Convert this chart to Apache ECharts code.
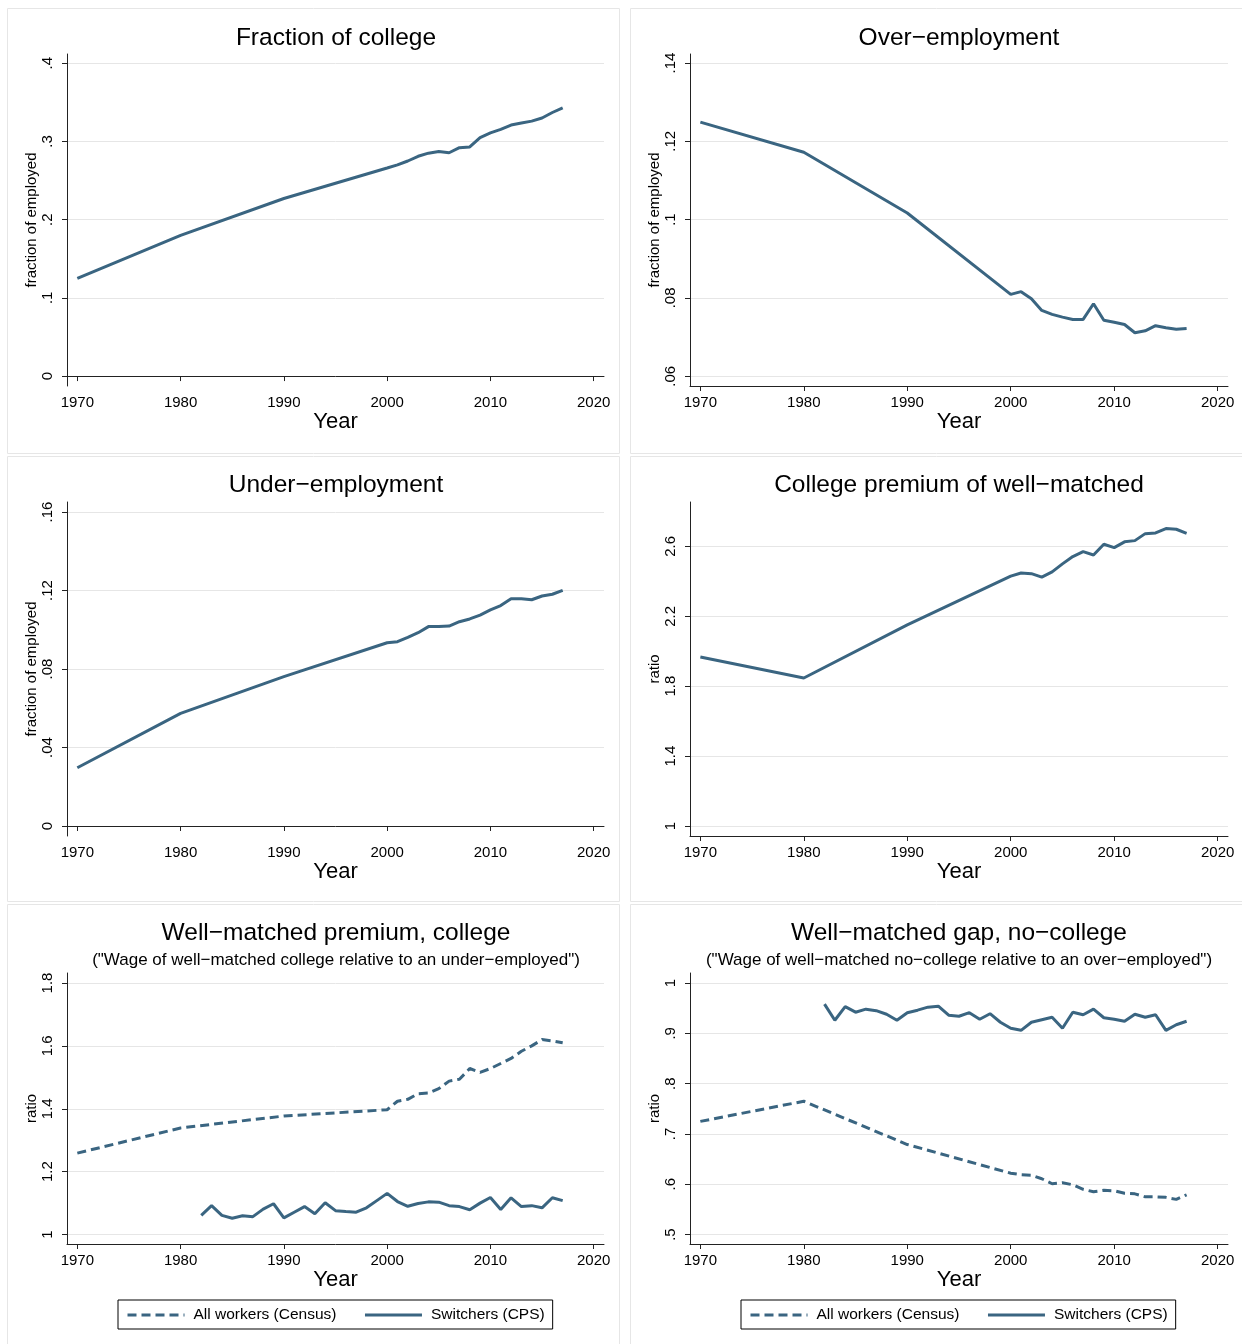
<!DOCTYPE html>
<html>
<head>
<meta charset="utf-8">
<script src="https://cdn.jsdelivr.net/npm/echarts@6/dist/echarts.min.js"></script>
<style>
  html, body { margin: 0; padding: 0; background: #fff; }
  #chart { width: 1242px; height: 1344px; }
</style>
</head>
<body>
<div id="chart"></div>
<script>
// years of the Census series: decades, then yearly from 2000
var censusYears = [1970, 1980, 1990, 2000, 2001, 2002, 2003, 2004, 2005, 2006, 2007, 2008,
  2009, 2010, 2011, 2012, 2013, 2014, 2015, 2016, 2017];
// years of the CPS switchers series
var cpsYears = [1982, 1983, 1984, 1985, 1986, 1987, 1988, 1989, 1990, 1991, 1992, 1993, 1994,
  1995, 1996, 1997, 1998, 1999, 2000, 2001, 2002, 2003, 2004, 2005, 2006, 2007, 2008, 2009,
  2010, 2011, 2012, 2013, 2014, 2015, 2016, 2017];

var fracCollege = [0.125, 0.180, 0.227, 0.266, 0.270, 0.275, 0.281, 0.285, 0.287, 0.2855, 0.292,
  0.293, 0.305, 0.311, 0.3155, 0.321, 0.3235, 0.326, 0.330, 0.337, 0.343];
var overEmp = [0.1249, 0.1172, 0.1017, 0.0809, 0.0816, 0.0798, 0.0768, 0.0758, 0.0751, 0.0745,
  0.0745, 0.0785, 0.0743, 0.0738, 0.0732, 0.0711, 0.0716, 0.0729, 0.0724, 0.0720, 0.0722];
var underEmp = [0.0297, 0.0574, 0.0761, 0.0934, 0.0939, 0.0961, 0.0985, 0.1016, 0.1017, 0.1019,
  0.1041, 0.1055, 0.1075, 0.1101, 0.1123, 0.1158, 0.1158, 0.1153, 0.1172, 0.1181, 0.1201];
var premWell = [1.967, 1.847, 2.151, 2.430, 2.448, 2.444, 2.424, 2.454, 2.500, 2.542, 2.570,
  2.551, 2.612, 2.593, 2.626, 2.633, 2.673, 2.677, 2.702, 2.698, 2.675];
var censusCollege = [1.259, 1.339, 1.377, 1.397, 1.424, 1.430, 1.448, 1.450, 1.464, 1.488, 1.494,
  1.528, 1.516, 1.528, 1.544, 1.560, 1.583, 1.600, 1.620, 1.616, 1.610];
var switchCollege = [1.061, 1.092, 1.061, 1.052, 1.060, 1.057, 1.081, 1.098, 1.053, 1.071, 1.089,
  1.066, 1.101, 1.076, 1.073, 1.071, 1.085, 1.108, 1.131, 1.105, 1.090, 1.099, 1.104, 1.103,
  1.092, 1.089, 1.079, 1.100, 1.118, 1.080, 1.117, 1.089, 1.092, 1.085, 1.117, 1.108];
var censusNoCollege = [0.725, 0.765, 0.679, 0.622, 0.619, 0.618, 0.611, 0.601, 0.603, 0.599,
  0.590, 0.585, 0.588, 0.587, 0.582, 0.581, 0.575, 0.575, 0.574, 0.570, 0.579];
var switchNoCollege = [0.958, 0.926, 0.953, 0.942, 0.948, 0.945, 0.938, 0.926, 0.941, 0.946,
  0.952, 0.954, 0.936, 0.934, 0.941, 0.928, 0.939, 0.922, 0.910, 0.906, 0.922, 0.927, 0.932,
  0.910, 0.942, 0.937, 0.948, 0.931, 0.928, 0.924, 0.938, 0.932, 0.937, 0.906, 0.917, 0.924];

// tick labels
var xTicks = [1970, 1980, 1990, 2000, 2010, 2020];
var yTicksFrac = [0, 0.1, 0.2, 0.3, 0.4];
var yTicksOver = [0.06, 0.08, 0.1, 0.12, 0.14];
var yTicksUnder = [0, 0.04, 0.08, 0.12, 0.16];
var yTicksPrem = [1, 1.4, 1.8, 2.2, 2.6];
var yTicksWellC = [1, 1.2, 1.4, 1.6, 1.8];
var yTicksWellN = [0.5, 0.6, 0.7, 0.8, 0.9, 1];

var titles = ['Fraction of college', 'Over\u2212employment', 'Under\u2212employment',
  'College premium of well\u2212matched', 'Well\u2212matched premium, college',
  'Well\u2212matched gap, no\u2212college'];
var subtitles = ['("Wage of well\u2212matched college relative to an under\u2212employed")',
  '("Wage of well\u2212matched no\u2212college relative to an over\u2212employed")'];
var seriesNames = ['All workers (Census)', 'Switchers (CPS)'];

function pairs(xs, ys) {
  return xs.map(function (x, i) { return [x, ys[i]]; });
}
// Stata style: .4 instead of 0.4
function stataFmt(v) {
  var s = String(+(+v).toFixed(4));
  return s.replace(/^0\./, '.');
}

var FONT = 'Liberation Sans, Arial, sans-serif';
var LINE = '#3a6581';

// plot boxes (axis line rectangles) of the six panels
var boxes = [
  { left: 67, top: 54, width: 537, height: 332 },
  { left: 690, top: 54, width: 538, height: 332 },
  { left: 67, top: 502, width: 537, height: 334 },
  { left: 690, top: 502, width: 538, height: 334 },
  { left: 67, top: 973, width: 537, height: 271 },
  { left: 690, top: 973, width: 538, height: 271 }
];
var yRanges = [
  { min: -0.0127, max: 0.4118, ticks: yTicksFrac, name: 'fraction of employed' },
  { min: 0.0575, max: 0.1423, ticks: yTicksOver, name: 'fraction of employed' },
  { min: -0.0051, max: 0.1651, ticks: yTicksUnder, name: 'fraction of employed' },
  { min: 0.9428, max: 2.854, ticks: yTicksPrem, name: 'ratio' },
  { min: 0.970, max: 1.8318, ticks: yTicksWellC, name: 'ratio' },
  { min: 0.4813, max: 1.0199, ticks: yTicksWellN, name: 'ratio' }
];

var grid = [], xAxis = [], yAxis = [];
boxes.forEach(function (b, i) {
  grid.push({ left: b.left, top: b.top, width: b.width, height: b.height, containLabel: false });
  xAxis.push({
    type: 'value', gridIndex: i, min: 1969, max: 2021,
    name: 'Year', nameLocation: 'middle', nameGap: 24,
    nameTextStyle: { fontSize: 22, fontFamily: FONT, color: '#000' },
    axisLine: { show: true, lineStyle: { color: '#222', width: 1 } },
    axisTick: { show: true, length: 5, customValues: xTicks, lineStyle: { color: '#222' } },
    axisLabel: { customValues: xTicks, margin: 9, fontSize: 15, fontFamily: FONT, color: '#000',
      formatter: function (v) { return String(v); } },
    splitLine: { show: false }
  });
  var r = yRanges[i];
  yAxis.push({
    type: 'value', gridIndex: i, min: r.min, max: r.max,
    name: r.name, nameLocation: 'middle', nameGap: 27,
    nameTextStyle: { fontSize: 15, fontFamily: FONT, color: '#000' },
    axisLine: { show: true, lineStyle: { color: '#222', width: 1 } },
    axisTick: { show: true, length: 5, customValues: r.ticks, lineStyle: { color: '#222' } },
    axisLabel: { customValues: r.ticks, rotate: 90, margin: 12, fontSize: 15, fontFamily: FONT,
      color: '#000', formatter: stataFmt },
    splitLine: { show: true, lineStyle: { color: '#e6e6e6', width: 1 } }
  });
});

function lineSeries(name, idx, data, dashed) {
  return {
    type: 'line', name: name, xAxisIndex: idx, yAxisIndex: idx, data: data,
    symbol: 'none', silent: true, animation: false,
    lineStyle: { color: LINE, width: 3, type: dashed ? [9, 5] : 'solid' },
    itemStyle: { color: LINE }
  };
}

var series = [
  lineSeries('frac', 0, pairs(censusYears, fracCollege)),
  lineSeries('over', 1, pairs(censusYears, overEmp)),
  lineSeries('under', 2, pairs(censusYears, underEmp)),
  lineSeries('prem', 3, pairs(censusYears, premWell)),
  lineSeries(seriesNames[0], 4, pairs(censusYears, censusCollege), true),
  lineSeries(seriesNames[1], 4, pairs(cpsYears, switchCollege)),
  lineSeries(seriesNames[0], 5, pairs(censusYears, censusNoCollege), true),
  lineSeries(seriesNames[1], 5, pairs(cpsYears, switchNoCollege))
];

var titleCenters = [[336, 26], [959, 26], [336, 473], [959, 473], [336, 921], [959, 921]];
var title = titles.map(function (t, i) {
  return {
    text: t, left: titleCenters[i][0], top: titleCenters[i][1], textAlign: 'center', padding: 0,
    textStyle: { fontSize: 24.5, fontWeight: 'normal', fontFamily: FONT, color: '#000' }
  };
});
subtitles.forEach(function (t, i) {
  title.push({
    text: t, left: i === 0 ? 336 : 959, top: 952, textAlign: 'center', padding: 0,
    textStyle: { fontSize: 17, fontWeight: 'normal', fontFamily: FONT, color: '#000' }
  });
});

function legendAt(left) {
  return {
    left: left, top: 1300, orient: 'horizontal', data: seriesNames,
    selectedMode: false, borderColor: '#000', borderWidth: 1, borderRadius: 0,
    padding: [7, 8, 6, 8], itemWidth: 57, itemHeight: 16, itemGap: 27,
    itemStyle: { opacity: 0, borderWidth: 0 },
    lineStyle: { width: 3 },
    textStyle: { fontSize: 15.5, fontFamily: FONT, color: '#000', padding: [0, 0, 0, 4] }
  };
}

// light frames around each panel
var frames = [[7, 8], [630, 8], [7, 456], [630, 456], [7, 904], [630, 904]];
var graphic = frames.map(function (f) {
  return {
    type: 'rect', left: f[0], top: f[1], silent: true, z: -1,
    shape: { width: 612, height: 445 },
    style: { fill: '#fff', stroke: '#e6e6e6', lineWidth: 1 }
  };
});

var chart = echarts.init(document.getElementById('chart'), null, { renderer: 'canvas' });
chart.setOption({
  backgroundColor: '#fff',
  animation: false,
  title: title,
  grid: grid,
  xAxis: xAxis,
  yAxis: yAxis,
  legend: [legendAt(118), legendAt(741)],
  graphic: graphic,
  series: series
});
</script>
</body>
</html>
